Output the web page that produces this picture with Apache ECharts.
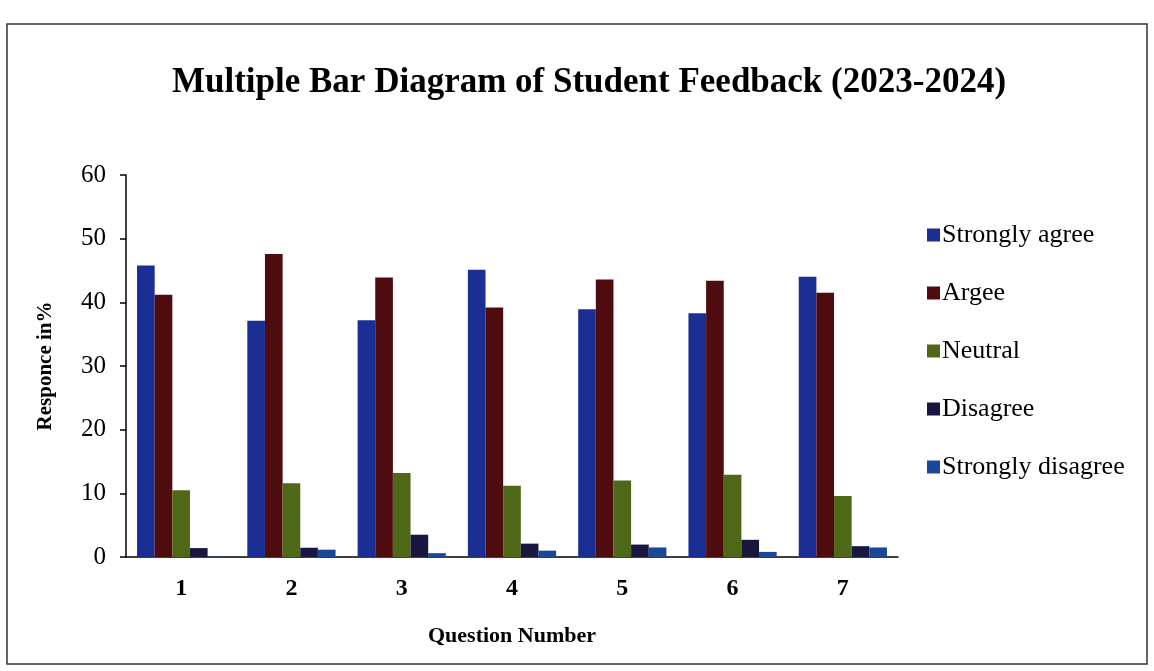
<!DOCTYPE html>
<html>
<head>
<meta charset="utf-8">
<script src="https://cdn.jsdelivr.net/npm/echarts@6/dist/echarts.min.js"></script>
<style>
html,body{margin:0;padding:0;background:#fff;}
#chart{width:1154px;height:671px;}
</style>
</head>
<body>
<div id="chart"></div>
<script>
var categories = ['1', '2', '3', '4', '5', '6', '7'];
var seriesNames = ['Strongly agree', 'Argee', 'Neutral', 'Disagree', 'Strongly disagree'];
var stronglyAgree = [45.8, 37.1, 37.2, 45.1, 38.9, 38.3, 44.0];
var agree = [41.2, 47.6, 43.9, 39.2, 43.6, 43.4, 41.5];
var neutral = [10.5, 11.6, 13.2, 11.2, 12.0, 12.9, 9.6];
var disagree = [1.4, 1.45, 3.5, 2.1, 1.95, 2.7, 1.7];
var stronglyDisagree = [0.1, 1.15, 0.6, 1.0, 1.5, 0.8, 1.5];
var yTicks = [0, 10, 20, 30, 40, 50, 60];

var colors = ['#1b2e94', '#4e0c0e', '#4f6818', '#18173f', '#1c4696'];
var serif = 'Liberation Serif';
var values = [stronglyAgree, agree, neutral, disagree, stronglyDisagree];

var chart = echarts.init(document.getElementById('chart'));
chart.setOption({
  animation: false,
  backgroundColor: '#ffffff',
  title: {
    text: 'Multiple Bar Diagram of Student Feedback (2023-2024)',
    left: 584,
    textAlign: 'center',
    top: 60,
    textStyle: {fontFamily: serif, fontWeight: 'bold', fontSize: 35, color: '#000'}
  },
  legend: {
    orient: 'vertical',
    left: 922,
    top: 217,
    itemWidth: 13,
    itemHeight: 13,
    itemGap: 32,
    icon: 'rect',
    textStyle: {fontFamily: serif, fontSize: 26, color: '#000', padding: [0, 0, 0, -3]},
    data: seriesNames
  },
  grid: {left: 126, right: 256, top: 175, bottom: 114, containLabel: false},
  xAxis: {
    type: 'category',
    data: categories,
    name: 'Question Number',
    nameLocation: 'middle',
    nameGap: 68,
    nameTextStyle: {fontFamily: serif, fontWeight: 'bold', fontSize: 22, color: '#000'},
    axisLine: {lineStyle: {color: '#000', width: 1.5}},
    axisTick: {show: false},
    axisLabel: {fontFamily: serif, fontWeight: 'bold', fontSize: 24, color: '#000', margin: 20}
  },
  yAxis: {
    type: 'value',
    min: yTicks[0],
    max: yTicks[yTicks.length - 1],
    interval: 10,
    name: 'Responce in%',
    nameLocation: 'middle',
    nameGap: 70,
    nameTextStyle: {fontFamily: serif, fontWeight: 'bold', fontSize: 21, color: '#000'},
    axisLine: {show: true, lineStyle: {color: '#000', width: 1.5}},
    axisTick: {show: true, length: 6, lineStyle: {color: '#000', width: 1.5}},
    splitLine: {show: false},
    axisLabel: {fontFamily: serif, fontSize: 25, color: '#000', margin: 20}
  },
  graphic: [{
    type: 'rect',
    shape: {x: 7, y: 24, width: 1140, height: 640},
    style: {fill: 'none', stroke: '#333', lineWidth: 1.5},
    silent: true
  }],
  series: seriesNames.map(function (name, i) {
    return {
      name: name,
      type: 'bar',
      data: values[i],
      barGap: '0%',
      barCategoryGap: '20%',
      itemStyle: {color: colors[i]}
    };
  })
});
</script>
</body>
</html>
